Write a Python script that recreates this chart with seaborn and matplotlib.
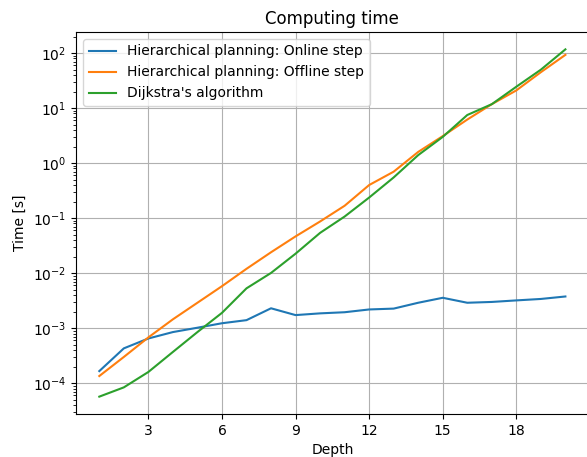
import matplotlib
matplotlib.use("Agg")
import matplotlib.pyplot as plt
import seaborn as sns
import pandas as pd

depth = list(range(1, 21))
online = [1.66e-4, 4.3e-4, 6.5e-4, 8.5e-4, 1.02e-3, 1.23e-3, 1.4e-3, 2.3e-3, 1.73e-3, 1.86e-3,
          1.95e-3, 2.19e-3, 2.27e-3, 2.9e-3, 3.57e-3, 2.9e-3, 3.0e-3, 3.2e-3, 3.4e-3, 3.77e-3]
offline = [1.35e-4, 3.0e-4, 6.8e-4, 1.45e-3, 2.9e-3, 5.8e-3, 1.2e-2, 2.4e-2, 4.66e-2, 8.7e-2,
           0.168, 0.40, 0.70, 1.6, 3.1, 6.2, 11.8, 21.0, 45.0, 93.0]
dijkstra = [5.7e-5, 8.4e-5, 1.6e-4, 3.7e-4, 8.5e-4, 1.9e-3, 5.3e-3, 1.01e-2, 2.26e-2, 5.4e-2,
            0.107, 0.237, 0.55, 1.4, 3.0, 7.5, 11.8, 24.5, 50.0, 117.0]
series_names = ["Hierarchical planning: Online step",
                "Hierarchical planning: Offline step",
                "Dijkstra's algorithm"]
xticks = [3, 6, 9, 12, 15, 18]

df = pd.concat([
    pd.DataFrame({"Depth": depth, "Time": online, "Series": series_names[0]}),
    pd.DataFrame({"Depth": depth, "Time": offline, "Series": series_names[1]}),
    pd.DataFrame({"Depth": depth, "Time": dijkstra, "Series": series_names[2]}),
])

fig = plt.figure(figsize=(5.87, 4.57), dpi=100)
ax = fig.add_axes([76 / 587, 43 / 457, (588.7 - 76) / 587, (414 - 32) / 457])
sns.lineplot(data=df, x="Depth", y="Time", hue="Series", hue_order=series_names,
             palette=["#1f77b4", "#ff7f0e", "#2ca02c"], linewidth=1.5, ax=ax)
ax.set_yscale("log")
ax.set_xticks(xticks)
ax.grid(True, which="major", color="#b0b0b0", linewidth=0.8)
ax.set_axisbelow(True)
ax.set_title("Computing time")
ax.set_xlabel("Depth")
ax.set_ylabel("Time [s]")
ax.legend(loc="upper left", title=None)
fig.savefig("out.png", dpi=100)
